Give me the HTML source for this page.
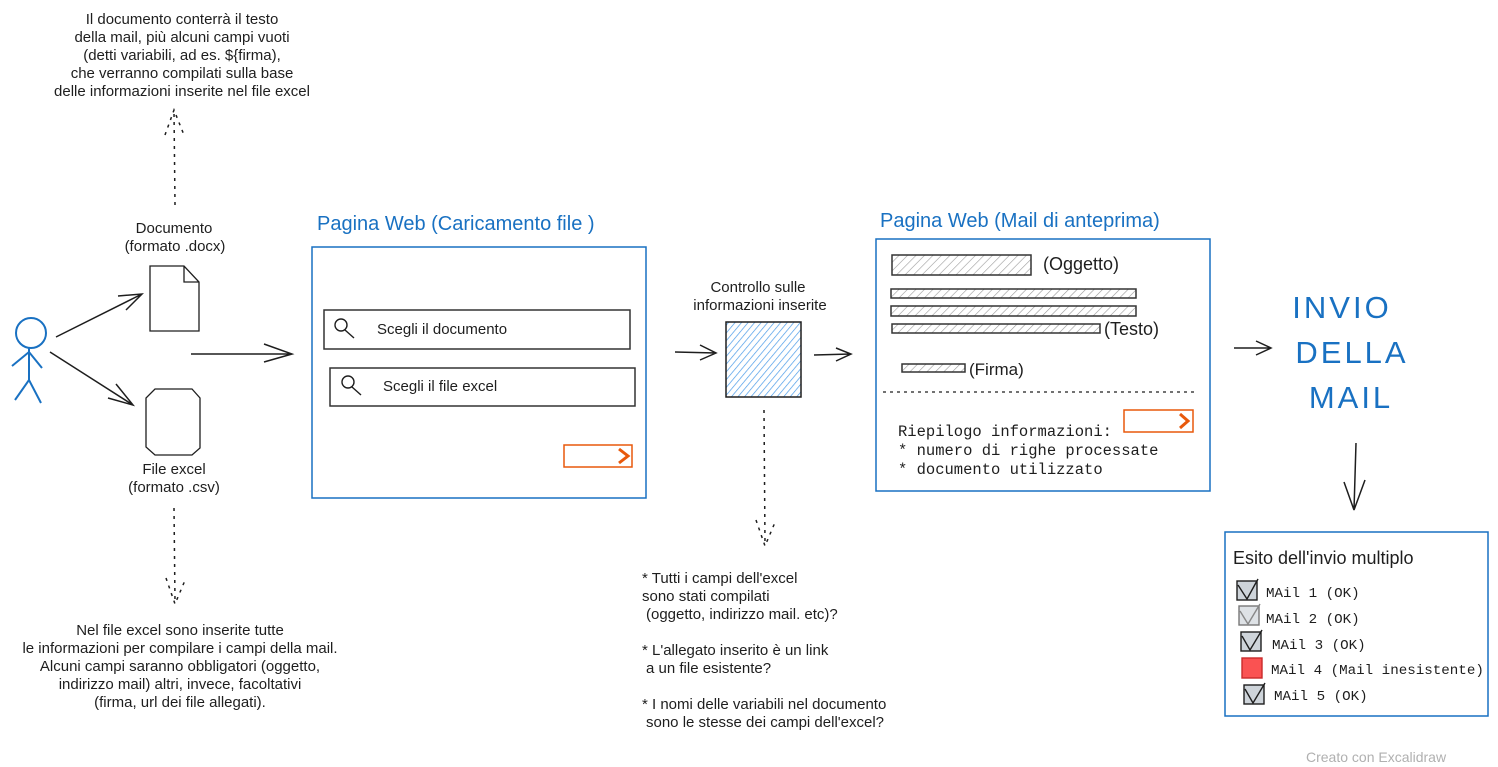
<!DOCTYPE html>
<html><head><meta charset="utf-8"><style>
html,body{margin:0;padding:0;background:#fff;}
svg{display:block;}
.t{font-family:"Liberation Sans",sans-serif;font-size:15px;fill:#1e1e1e;}
.b{font-family:"Liberation Sans",sans-serif;font-size:20px;fill:#1971c2;}
.h{font-family:"Comic Sans MS","Liberation Sans",sans-serif;fill:#1e1e1e;}
.m{font-family:"Liberation Mono","DejaVu Sans Mono",monospace;fill:#1e1e1e;}
</style></head><body>
<svg width="1498" height="767" viewBox="0 0 1498 767" xmlns="http://www.w3.org/2000/svg">
<defs>
<pattern id="hg" width="6" height="6" patternUnits="userSpaceOnUse" patternTransform="rotate(45)"><line x1="0" y1="0" x2="0" y2="6" stroke="#999" stroke-width="1.2"/></pattern>
<pattern id="hb" width="5" height="5" patternUnits="userSpaceOnUse" patternTransform="rotate(40)"><line x1="0" y1="0" x2="0" y2="5" stroke="#4a9be8" stroke-width="1.4"/></pattern>
</defs>
<g class="t" text-anchor="middle">
<text x="182" y="24">Il documento conterrà il testo</text>
<text x="182" y="42">della mail, più alcuni campi vuoti</text>
<text x="182" y="60">(detti variabili, ad es. ${firma),</text>
<text x="182" y="78">che verranno compilati sulla base</text>
<text x="182" y="96">delle informazioni inserite nel file excel</text>
<text x="174" y="233">Documento</text>
<text x="175" y="251">(formato .docx)</text>
<text x="174" y="474">File excel</text>
<text x="174" y="492">(formato .csv)</text>
<text x="180" y="635">Nel file excel sono inserite tutte</text>
<text x="180" y="653">le informazioni per compilare i campi della mail.</text>
<text x="180" y="671">Alcuni campi saranno obbligatori (oggetto,</text>
<text x="180" y="689">indirizzo mail) altri, invece, facoltativi</text>
<text x="180" y="707">(firma, url dei file allegati).</text>
<text x="758" y="292">Controllo sulle</text>
<text x="760" y="310">informazioni inserite</text>
</g>
<g class="t">
<text x="642" y="583">* Tutti i campi dell'excel</text>
<text x="642" y="601">sono stati compilati</text>
<text x="646" y="619">(oggetto, indirizzo mail. etc)?</text>
<text x="642" y="655">* L'allegato inserito è un link</text>
<text x="646" y="673">a un file esistente?</text>
<text x="642" y="709">* I nomi delle variabili nel documento</text>
<text x="646" y="727">sono le stesse dei campi dell'excel?</text>
</g>
<g stroke="#1e1e1e" stroke-width="1.5" fill="none" stroke-dasharray="3 5">
<path d="M175 205 L174 112"/><path d="M165 135 L174 110 L184 135"/>
<path d="M174 508 L175 602"/><path d="M166 578 L175 604 L186 578"/>
<path d="M764 410 L765 545"/><path d="M756 520 L765 546 L776 520"/>
</g>
<g stroke="#1971c2" stroke-width="2" fill="none">
<circle cx="31" cy="333" r="15"/>
<path d="M29 348 L29 380 M12 366 L29 352 L42 368 M29 380 L15 400 M29 380 L41 403"/>
</g>
<g stroke="#1e1e1e" stroke-width="1.5" fill="none">
<path d="M56 337 L142 294 M118 296 L142 294 L126 310"/>
<path d="M50 352 L133 405 M116 384 L133 405 L108 398"/>
<path d="M191 354 L292 354 M264 344 L292 354 L264 362"/>
<path d="M675 352 L716 353 M700 345 L716 353 L700 360"/>
<path d="M814 355 L851 354 M836 348 L851 354 L836 361"/>
<path d="M1234 348 L1271 348 M1256 341 L1271 348 L1256 355"/>
<path d="M1356 443 L1354 510 M1344 482 L1354 510 M1365 480 L1354 510"/>
</g>
<path d="M150 266 L184 266 L199 282 L199 331 L150 331 Z M184 266 L184 282 L199 282" stroke="#1e1e1e" stroke-width="1.3" fill="none"/>
<path d="M155 389 L192 389 L200 398 L200 448 L192 455 L155 455 L146 447 L146 398 Z" stroke="#1e1e1e" stroke-width="1.3" fill="none"/>
<text class="b" x="317" y="230">Pagina Web (Caricamento file )</text>
<rect x="312" y="247" width="334" height="251" stroke="#1971c2" stroke-width="1.5" fill="none"/>
<rect x="324" y="310" width="306" height="39" stroke="#333" stroke-width="1.5" fill="none"/>
<rect x="330" y="368" width="305" height="38" stroke="#333" stroke-width="1.5" fill="none"/>
<g stroke="#1e1e1e" stroke-width="1.4" fill="none">
<circle cx="341" cy="325" r="6"/><path d="M345 330 L354 338"/>
<circle cx="348" cy="382" r="6"/><path d="M352 387 L361 395"/>
</g>
<text class="h" x="377" y="334" font-size="15">Scegli il documento</text>
<text class="h" x="383" y="391" font-size="15">Scegli  il file excel</text>
<rect x="564" y="445" width="68" height="22" stroke="#e8590c" stroke-width="1.5" fill="none"/>
<path d="M619 449 L628 456 L619 463" stroke="#e8590c" stroke-width="3" fill="none"/>
<rect x="726" y="322" width="75" height="75" fill="url(#hb)" stroke="#1e1e1e" stroke-width="1.5"/>
<text class="b" x="880" y="227">Pagina Web (Mail di anteprima)</text>
<rect x="876" y="239" width="334" height="252" stroke="#1971c2" stroke-width="1.5" fill="none"/>
<g stroke="#333" stroke-width="1.5" fill="url(#hg)">
<rect x="892" y="255" width="139" height="20"/>
<rect x="891" y="289" width="245" height="9"/>
<rect x="891" y="306" width="245" height="10"/>
<rect x="892" y="324" width="208" height="9"/>
<rect x="902" y="364" width="63" height="8"/>
</g>
<text class="h" x="1043" y="270" font-size="18">(Oggetto)</text>
<text class="h" x="1104" y="335" font-size="18">(Testo)</text>
<text class="h" x="969" y="375" font-size="17">(Firma)</text>
<line x1="883" y1="392" x2="1194" y2="392" stroke="#1e1e1e" stroke-width="1.3" stroke-dasharray="3 4"/>
<rect x="1124" y="410" width="69" height="22" stroke="#e8590c" stroke-width="1.5" fill="none"/>
<path d="M1180 414 L1188 421 L1180 428" stroke="#e8590c" stroke-width="3" fill="none"/>
<g class="m" font-size="15.5">
<text x="898" y="436">Riepilogo informazioni:</text>
<text x="898" y="455">* numero di righe processate</text>
<text x="898" y="474">* documento utilizzato</text>
</g>
<g class="h" font-size="31" text-anchor="middle" style="fill:#1971c2" letter-spacing="3">
<text x="1342" y="318">INVIO</text>
<text x="1352" y="363">DELLA</text>
<text x="1351" y="408">MAIL</text>
</g>
<rect x="1225" y="532" width="263" height="184" stroke="#1971c2" stroke-width="1.5" fill="none"/>
<text class="h" x="1233" y="564" font-size="18">Esito dell'invio multiplo</text>
<g stroke="#1e1e1e" stroke-width="1.4">
<rect x="1237" y="581" width="20" height="19" fill="#ced4da"/>
<rect x="1239" y="606" width="20" height="19" fill="#dee2e6" stroke="#777"/>
<rect x="1241" y="632" width="20" height="19" fill="#ced4da"/>
<rect x="1242" y="658" width="20" height="20" fill="#fa5252" stroke="#c92a2a"/>
<rect x="1244" y="685" width="20" height="19" fill="#ced4da"/>
</g>
<g stroke="#1e1e1e" stroke-width="1.4" fill="none">
<path d="M1238 585 L1247 599 L1258 579"/>
<path d="M1240 611 L1248 624 L1260 604" stroke="#888"/>
<path d="M1242 636 L1250 650 L1262 630"/>
<path d="M1245 689 L1253 703 L1265 683"/>
</g>
<g class="m" font-size="14.2">
<text x="1266" y="597">MAil 1 (OK)</text>
<text x="1266" y="623">MAil 2 (OK)</text>
<text x="1272" y="649">MAil 3 (OK)</text>
<text x="1271" y="674">MAil 4 (Mail inesistente)</text>
<text x="1274" y="700">MAil 5 (OK)</text>
</g>
<text class="h" x="1306" y="762" font-size="14" style="fill:#b0b0b0">Creato con Excalidraw</text>
</svg>
</body></html>
